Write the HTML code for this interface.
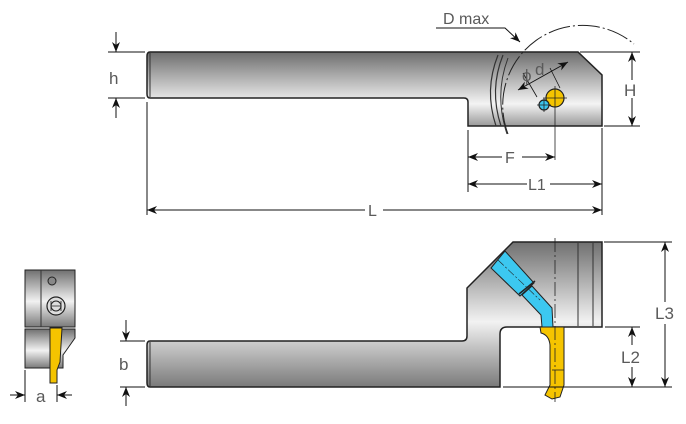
<!DOCTYPE html>
<html><head><meta charset="utf-8"><style>
html,body{margin:0;padding:0;background:#fff;}
svg{display:block;}
text{font-family:"Liberation Sans",sans-serif;fill:#5a5a5a;}
</style></head><body>
<svg width="686" height="424" viewBox="0 0 686 424" xmlns="http://www.w3.org/2000/svg">
<defs>
<linearGradient id="g" x1="0" y1="0" x2="0" y2="1">
<stop offset="0" stop-color="#6e6e6e"/><stop offset="0.7" stop-color="#f4f4f4"/><stop offset="1" stop-color="#9a9a9a"/>
</linearGradient>
<linearGradient id="g2" x1="0" y1="0" x2="0" y2="1">
<stop offset="0" stop-color="#707070"/><stop offset="0.55" stop-color="#f2f2f2"/><stop offset="1" stop-color="#7a7a7a"/>
</linearGradient>
<marker id="a" viewBox="0 0 10 10" refX="10" refY="5" markerWidth="10" markerHeight="10" orient="auto-start-reverse"><path d="M0,1 L10,5 L0,9 L3,5z" fill="#111"/></marker>
</defs>

<!-- TOP VIEW -->
<path d="M150,52 H578 L602,75 V126 H468 V102 Q468,98 464,98 H150 Q147,98 147,94 V56 Q147,52 150,52Z" fill="url(#g)" stroke="#222" stroke-width="1.5"/>
<line x1="150" y1="53" x2="150" y2="97" stroke="#333"/>
<path d="M498,55 Q484,90 496,126" fill="none" stroke="#333" stroke-width="1.2"/>
<path d="M503,55 Q489,90 501,126" fill="none" stroke="#333" stroke-width="1.2"/>
<path d="M508,58 Q494,95 507,134" fill="none" stroke="#333" stroke-width="1"/>
<path d="M508,134 A80,80 0 0 1 634,44" fill="none" stroke="#222" stroke-dasharray="22,3,2,3"/>
<circle cx="555" cy="98" r="9" fill="#f5c400" stroke="#222" stroke-width="1.2"/>
<circle cx="544" cy="105" r="5" fill="#3cc4ee" stroke="#222" stroke-width="1.2"/>
<path d="M555,86V160M543,98H567M544,98V112M537,105H551" stroke="#222" stroke-width="0.8"/>
<line x1="518" y1="90" x2="568" y2="62" stroke="#111" marker-start="url(#a)" marker-end="url(#a)"/>
<line x1="537" y1="97" x2="523" y2="73" stroke="#111" stroke-width="0.8"/>
<line x1="560" y1="88" x2="550" y2="68" stroke="#111" stroke-width="0.8"/>
<text x="522" y="81" font-size="17">ϕ</text><text x="535" y="75" font-size="17">d</text>
<text x="443" y="24" font-size="16">D max</text>
<polyline points="436,28 505,28 520,42" fill="none" stroke="#111" marker-end="url(#a)"/>
<!-- dims top -->
<g stroke="#111" fill="none">
<line x1="580" y1="52" x2="640" y2="52"/><line x1="604" y1="126" x2="640" y2="126"/>
<line x1="632" y1="52" x2="632" y2="80" marker-start="url(#a)"/><line x1="632" y1="98" x2="632" y2="126" marker-end="url(#a)"/>
<line x1="108" y1="52" x2="145" y2="52"/><line x1="108" y1="98" x2="145" y2="98"/>
<line x1="116" y1="32" x2="116" y2="52" marker-end="url(#a)"/><line x1="116" y1="118" x2="116" y2="98" marker-end="url(#a)"/>
<line x1="147" y1="102" x2="147" y2="215"/><line x1="468" y1="130" x2="468" y2="192"/><line x1="602" y1="128" x2="602" y2="215"/>
<line x1="468" y1="157" x2="502" y2="157" marker-start="url(#a)"/><line x1="522" y1="157" x2="555" y2="157" marker-end="url(#a)"/>
<line x1="468" y1="184" x2="527" y2="184" marker-start="url(#a)"/><line x1="550" y1="184" x2="602" y2="184" marker-end="url(#a)"/>
<line x1="147" y1="210" x2="365" y2="210" marker-start="url(#a)"/><line x1="383" y1="210" x2="602" y2="210" marker-end="url(#a)"/>
</g>
<text x="624" y="96" font-size="17">H</text>
<text x="109" y="84" font-size="17">h</text>
<text x="505" y="163" font-size="16">F</text>
<text x="528" y="190" font-size="16">L1</text>
<text x="368" y="216" font-size="16">L</text>

<!-- BOTTOM VIEW -->
<path d="M150,341 H462 Q467,341 467,336 V288 L513,242 H602 V327 H507 Q500,327 500,334 V387 H150 Q147,387 147,383 V345 Q147,341 150,341Z" fill="url(#g2)" stroke="#222" stroke-width="1.5"/>
<line x1="150" y1="342" x2="150" y2="386" stroke="#333"/>
<line x1="578" y1="243" x2="578" y2="326" stroke="#333"/>
<line x1="593" y1="243" x2="593" y2="326" stroke="#333"/>
<path d="M505,251 L491,268 L520,296 L534,283 Z" fill="#3cc8f0" stroke="#222"/>
<path d="M532,286 L552,308 L553,327 L542,327 L541,315 L522,295 Z" fill="#3cc8f0" stroke="#222"/>
<line x1="519" y1="294" x2="535" y2="281" stroke="#222" stroke-width="1.5"/>
<line x1="498" y1="260" x2="540" y2="300" stroke="#222" stroke-width="0.6" stroke-dasharray="8,2,2,2"/>
<path d="M540,327 H564 V385 L560,397 L552,399 L545,395 L550,385 V345 Q549,335 541,333 Z" fill="#f5c400" stroke="#222"/>
<line x1="552" y1="370" x2="564" y2="370" stroke="#222" stroke-width="0.8"/>
<line x1="555" y1="238" x2="555" y2="402" stroke="#222" stroke-width="0.8" stroke-dasharray="14,3,2,3"/>
<g stroke="#111" fill="none">
<line x1="604" y1="242" x2="672" y2="242"/><line x1="605" y1="327" x2="640" y2="327"/><line x1="503" y1="387" x2="672" y2="387"/>
<line x1="665" y1="242" x2="665" y2="302" marker-start="url(#a)"/><line x1="665" y1="324" x2="665" y2="387" marker-end="url(#a)"/>
<line x1="632" y1="327" x2="632" y2="345" marker-start="url(#a)"/><line x1="632" y1="367" x2="632" y2="387" marker-end="url(#a)"/>
<line x1="120" y1="341" x2="145" y2="341"/><line x1="120" y1="387" x2="145" y2="387"/>
<line x1="126" y1="320" x2="126" y2="341" marker-end="url(#a)"/><line x1="126" y1="406" x2="126" y2="387" marker-end="url(#a)"/>
</g>
<text x="655" y="319" font-size="17">L3</text>
<text x="621" y="363" font-size="17">L2</text>
<text x="119" y="370" font-size="17">b</text>

<!-- SIDE VIEW -->
<rect x="25" y="270" width="50" height="57" fill="url(#g2)" stroke="#222"/>
<line x1="41" y1="270" x2="41" y2="327" stroke="#333"/>
<path d="M25,329 H75 V338 L63,355 V368 H25 Z" fill="url(#g2)" stroke="#222"/>
<circle cx="52" cy="281" r="4" fill="#888" stroke="#222"/>
<circle cx="56" cy="306" r="9" fill="#ddd" stroke="#222" stroke-width="1.2"/>
<circle cx="56" cy="306" r="5" fill="none" stroke="#222"/>
<path d="M51,301V311M61,301V311M51,306H61" stroke="#222" stroke-width="0.8"/>
<path d="M50,328 H62 L60,362 L57,370 V383 H50 Z" fill="#f5c400" stroke="#222"/>
<g stroke="#111" fill="none">
<line x1="25" y1="370" x2="25" y2="402"/><line x1="57" y1="385" x2="57" y2="402"/>
<line x1="10" y1="395" x2="25" y2="395" marker-end="url(#a)"/><line x1="72" y1="395" x2="57" y2="395" marker-end="url(#a)"/>
</g>
<text x="36" y="402" font-size="17">a</text>
</svg>
</body></html>
